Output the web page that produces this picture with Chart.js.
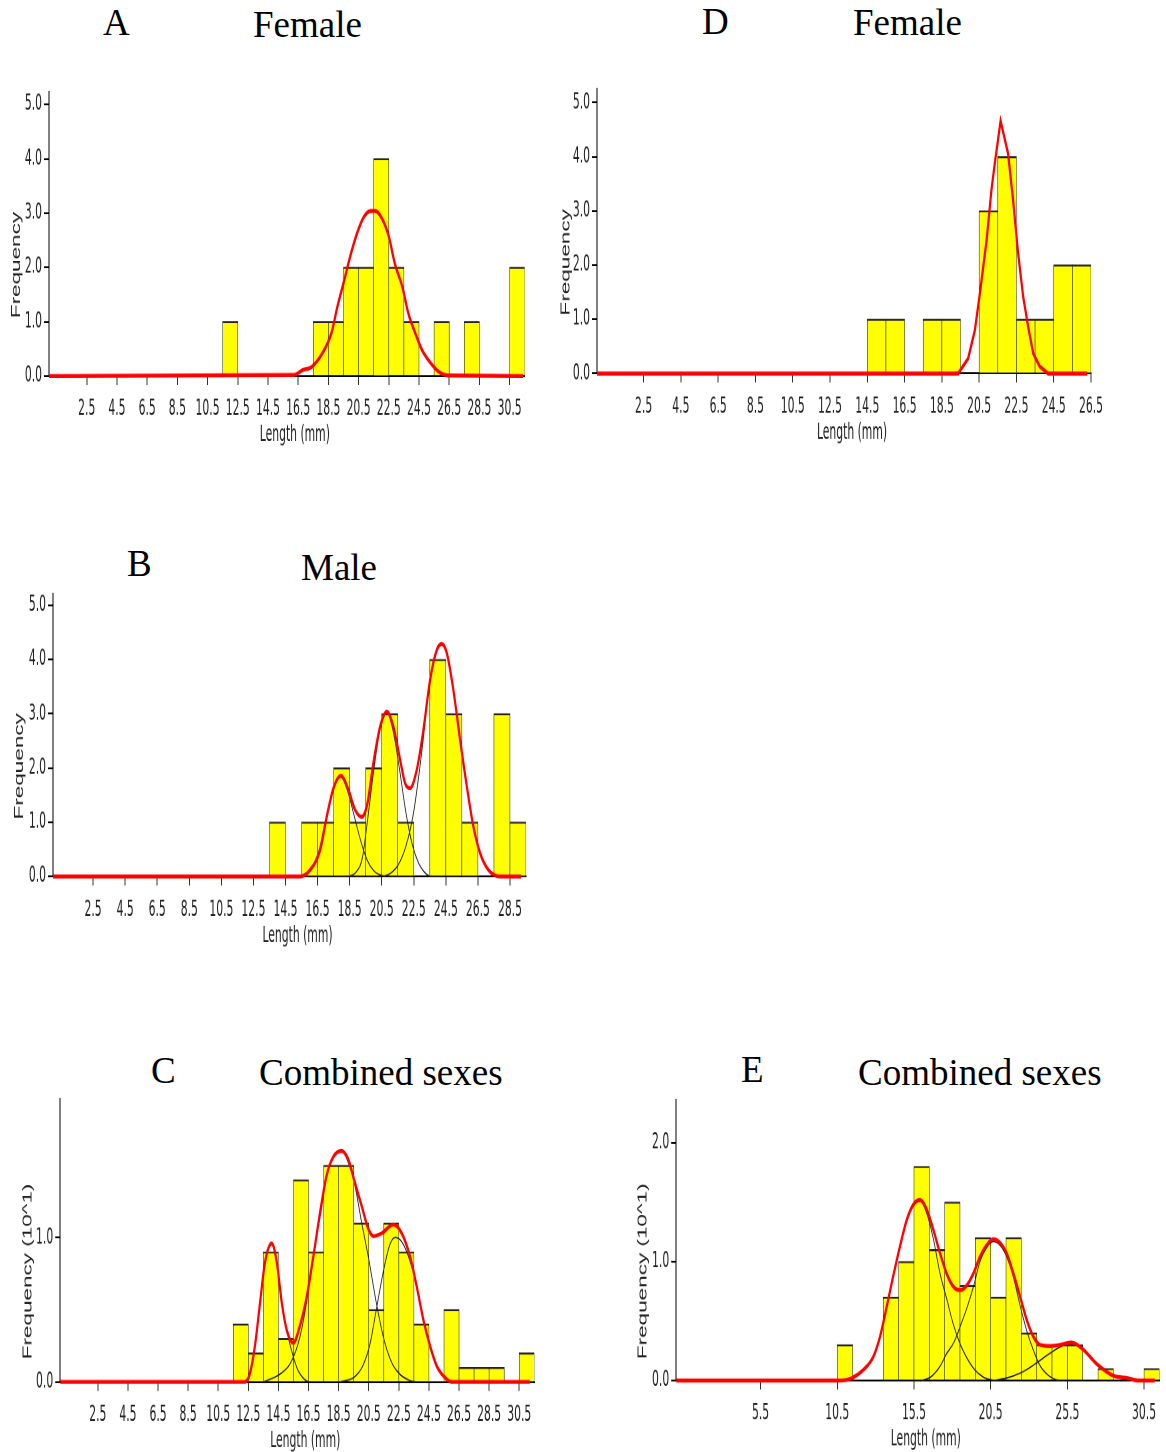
<!DOCTYPE html>
<html>
<head>
<meta charset="utf-8">
<title>Length-frequency distributions</title>
<script src="https://cdn.jsdelivr.net/npm/chart.js@4.4.1/dist/chart.umd.min.js"></script>
<style>
  html, body { margin: 0; padding: 0; background: #fff; }
  body { position: relative; width: 1166px; height: 1452px; overflow: hidden; }
  .lbl { position: absolute; font-family: 'Liberation Serif', 'Times New Roman', serif; font-size: 37px; line-height: 37px; color: #000; white-space: nowrap; }
  .panel { position: absolute; transform-origin: 0 0; }
  .panel canvas { display: block; }
</style>
</head>
<body>

<div class="lbl" style="left:103px;top:4px">A</div>
<div class="lbl" style="left:253px;top:6px">Female</div>
<div class="lbl" style="left:702px;top:3px">D</div>
<div class="lbl" style="left:853px;top:4px">Female</div>
<div class="lbl" style="left:127px;top:545px">B</div>
<div class="lbl" style="left:301px;top:549px">Male</div>
<div class="lbl" style="left:151px;top:1052px">C</div>
<div class="lbl" style="left:259px;top:1054px">Combined sexes</div>
<div class="lbl" style="left:741px;top:1051px">E</div>
<div class="lbl" style="left:858px;top:1054px">Combined sexes</div>

<div class="panel" id="panelA"></div>
<div class="panel" id="panelD"></div>
<div class="panel" id="panelB"></div>
<div class="panel" id="panelC"></div>
<div class="panel" id="panelE"></div>

<script>
// ===== Data =====
// bins are class mid-lengths (mm), class width 1 mm

// A - female
const binsA = [12, 18, 19, 20, 21, 22, 23, 24, 26, 28, 31];
const countsA = [1, 1, 1, 2, 2, 4, 2, 1, 1, 1, 2];
const fitXA = [0, 16.2, 16.8, 17.4, 18.1, 18.7, 19.1, 19.5, 20.0, 20.4, 20.85, 21.3, 21.6, 22.05, 22.5, 22.9, 23.4, 23.8, 24.25, 24.7, 25.3, 25.8, 26.4, 31.4];
const fitYA = [0, 0.02, 0.11, 0.17, 0.42, 0.79, 1.28, 1.71, 2.26, 2.63, 2.93, 3.04, 3.04, 2.9, 2.57, 2.07, 1.64, 1.15, 0.79, 0.48, 0.23, 0.08, 0.01, 0];
const xTicksA = [2.5, 4.5, 6.5, 8.5, 10.5, 12.5, 14.5, 16.5, 18.5, 20.5, 22.5, 24.5, 26.5, 28.5, 30.5];
const yTicksA = [0, 1, 2, 3, 4, 5];

// D - female
const binsD = [15, 16, 18, 19, 21, 22, 23, 24, 25, 26];
const countsD = [1, 1, 1, 1, 3, 4, 1, 1, 2, 2];
const fitXD = [0, 19.37, 19.91, 20.27, 20.54, 20.9, 21.16, 21.34, 21.65, 22.05, 22.32, 22.59, 22.86, 23.13, 23.4, 23.75, 24.2, 26.3];
const fitYD = [0, 0, 0.28, 0.8, 1.48, 2.46, 3.39, 3.88, 4.66, 4.06, 3.2, 2.22, 1.42, 0.86, 0.37, 0.13, 0, 0];
const xTicksD = [2.5, 4.5, 6.5, 8.5, 10.5, 12.5, 14.5, 16.5, 18.5, 20.5, 22.5, 24.5, 26.5];
const yTicksD = [0, 1, 2, 3, 4, 5];

// B - male
const binsB = [14, 16, 17, 18, 19, 20, 21, 22, 24, 25, 26, 28, 29];
const countsB = [1, 1, 1, 2, 1, 2, 3, 1, 4, 3, 1, 3, 1];
const fitXB = [0, 15.41, 16.03, 16.66, 17.07, 17.49, 17.95, 18.42, 18.84, 19.26, 19.61, 19.98, 20.4, 20.82, 21.23, 21.65, 21.96, 22.27, 22.69, 23.1, 23.52, 23.94, 24.25, 24.56, 24.97, 25.39, 25.81, 26.22, 26.64, 27.16, 27.88, 29.2];
const fitYB = [0, 0, 0.12, 0.49, 1.1, 1.63, 1.86, 1.6, 1.23, 1.1, 1.35, 2.09, 2.76, 3.04, 2.76, 2.15, 1.72, 1.63, 1.97, 2.7, 3.63, 4.18, 4.29, 4.12, 3.44, 2.52, 1.66, 0.92, 0.43, 0.12, 0, 0];
const cohortB1X = [15.4, 16.0, 16.6, 17.0, 17.5, 17.95, 18.4, 18.8, 19.2, 19.6, 20.0, 20.4, 20.8];
const cohortB1Y = [0, 0.12, 0.49, 1.05, 1.62, 1.84, 1.55, 1.1, 0.65, 0.3, 0.11, 0.03, 0];
const cohortB2X = [18.4, 18.9, 19.3, 19.6, 20.0, 20.4, 20.82, 21.2, 21.6, 22.0, 22.4, 22.8, 23.2, 23.5];
const cohortB2Y = [0, 0.08, 0.35, 1.0, 1.95, 2.7, 3.02, 2.7, 2.0, 1.2, 0.6, 0.25, 0.07, 0];
const cohortB3X = [20.6, 21.0, 21.5, 22.0, 22.5, 23.0, 23.5, 23.9, 24.25, 24.6, 25.0, 25.4, 25.8, 26.2, 26.6, 27.1, 27.8];
const cohortB3Y = [0, 0.05, 0.2, 0.55, 1.2, 2.3, 3.55, 4.15, 4.29, 4.1, 3.4, 2.5, 1.65, 0.92, 0.45, 0.13, 0];
const xTicksB = [2.5, 4.5, 6.5, 8.5, 10.5, 12.5, 14.5, 16.5, 18.5, 20.5, 22.5, 24.5, 26.5, 28.5];
const yTicksB = [0, 1, 2, 3, 4, 5];

// C - combined sexes (frequency x 10)
const binsC = [12, 13, 14, 15, 16, 17, 18, 19, 20, 21, 22, 23, 24, 26, 27, 28, 29, 31];
const countsC = [0.4, 0.2, 0.9, 0.3, 1.4, 0.9, 1.5, 1.5, 1.1, 0.5, 1.1, 0.9, 0.4, 0.5, 0.1, 0.1, 0.1, 0.2];
const fitXC = [0, 12.28, 12.61, 12.94, 13.28, 13.61, 14.05, 14.39, 14.72, 15.05, 15.49, 15.93, 16.38, 16.82, 17.26, 17.7, 18.15, 18.7, 19.14, 19.58, 20.03, 20.47, 20.81, 21.36, 22.13, 22.69, 23.24, 23.69, 24.13, 24.57, 25.02, 25.57, 26.0, 31.2];
const fitYC = [0, 0, 0.06, 0.25, 0.55, 0.83, 0.96, 0.83, 0.55, 0.36, 0.27, 0.39, 0.59, 0.87, 1.17, 1.43, 1.56, 1.6, 1.54, 1.38, 1.22, 1.06, 1.01, 1.03, 1.09, 1.03, 0.87, 0.66, 0.43, 0.25, 0.11, 0.03, 0, 0];
const cohortC1X = [12.3, 12.6, 12.95, 13.3, 13.6, 14.05, 14.4, 14.7, 15.05, 15.5, 15.8, 16.2, 16.5];
const cohortC1Y = [0, 0.06, 0.25, 0.55, 0.82, 0.95, 0.83, 0.58, 0.36, 0.17, 0.08, 0.02, 0];
const cohortC2X = [13.5, 14.2, 14.8, 15.3, 15.9, 16.4, 16.8, 17.3, 17.7, 18.15, 18.7, 19.1, 19.6, 20.0, 20.5, 21.0, 21.5, 22.0, 22.5, 23.2, 23.6];
const cohortC2Y = [0, 0.03, 0.07, 0.13, 0.3, 0.57, 0.86, 1.16, 1.42, 1.56, 1.6, 1.53, 1.35, 1.12, 0.85, 0.55, 0.3, 0.14, 0.06, 0.01, 0];
const cohortC3X = [18.6, 19.5, 20.1, 20.6, 21.0, 21.5, 21.9, 22.25, 22.7, 23.2, 23.7, 24.1, 24.6, 25.0, 25.5, 25.9];
const cohortC3Y = [0, 0.03, 0.11, 0.27, 0.5, 0.78, 0.95, 1.0, 0.97, 0.85, 0.65, 0.43, 0.24, 0.11, 0.03, 0];
const xTicksC = [2.5, 4.5, 6.5, 8.5, 10.5, 12.5, 14.5, 16.5, 18.5, 20.5, 22.5, 24.5, 26.5, 28.5, 30.5];
const yTicksC = [0, 1];

// E - combined sexes (frequency x 10)
const binsE = [11, 14, 15, 16, 17, 18, 19, 20, 21, 22, 23, 24, 25, 26, 28, 31];
const countsE = [0.3, 0.7, 1.0, 1.8, 1.1, 1.5, 0.8, 1.2, 0.7, 1.2, 0.4, 0.3, 0.3, 0.3, 0.1, 0.1];
const fitXE = [0, 10.68, 11.44, 12.2, 12.85, 13.29, 13.72, 14.15, 14.59, 15.03, 15.46, 15.89, 16.33, 16.76, 17.2, 17.63, 18.06, 18.5, 18.94, 19.37, 19.8, 20.24, 20.67, 21.11, 21.54, 21.98, 22.41, 22.85, 23.28, 23.72, 24.37, 25.02, 25.78, 26.54, 27.41, 28.5, 29.45, 30.1, 31.2];
const fitYE = [0, 0, 0.02, 0.09, 0.2, 0.37, 0.62, 0.88, 1.13, 1.35, 1.48, 1.52, 1.44, 1.27, 1.07, 0.9, 0.79, 0.76, 0.8, 0.9, 1.04, 1.14, 1.19, 1.16, 1.07, 0.9, 0.71, 0.51, 0.37, 0.3, 0.29, 0.3, 0.32, 0.26, 0.14, 0.04, 0.02, 0, 0];
const cohortE1X = [10.7, 11.4, 12.2, 12.85, 13.3, 13.7, 14.15, 14.6, 15.0, 15.45, 15.9, 16.3, 16.75, 17.2, 17.65, 18.05, 18.5, 18.95, 19.4, 20.0, 20.7];
const cohortE1Y = [0, 0.02, 0.09, 0.2, 0.37, 0.62, 0.88, 1.13, 1.34, 1.47, 1.51, 1.42, 1.2, 0.9, 0.68, 0.48, 0.31, 0.19, 0.1, 0.03, 0];
const cohortE2X = [16.0, 16.6, 17.2, 17.6, 18.1, 18.5, 18.95, 19.4, 19.8, 20.25, 20.67, 21.1, 21.55, 22.0, 22.4, 22.85, 23.3, 23.7, 24.2, 24.7, 25.0];
const cohortE2Y = [0, 0.03, 0.12, 0.22, 0.32, 0.45, 0.61, 0.8, 1.0, 1.12, 1.17, 1.14, 1.04, 0.86, 0.64, 0.42, 0.25, 0.13, 0.05, 0.01, 0];
const cohortE3X = [20.7, 21.5, 22.4, 23.3, 24.15, 25.0, 25.75, 26.5, 27.4, 28.5, 29.4, 30.1];
const cohortE3Y = [0, 0.02, 0.06, 0.13, 0.21, 0.28, 0.31, 0.26, 0.14, 0.04, 0.01, 0];
const xTicksE = [5.5, 10.5, 15.5, 20.5, 25.5, 30.5];
const yTicksE = [0, 1, 2];

// ===== Drawing =====
// lettering of the plots is tall and narrow, so each plot is drawn short and stretched vertically
const STRETCH = 1.8;
const NARROW = "'Liberation Sans Narrow', 'DejaVu Sans Condensed', 'Liberation Sans', sans-serif";
const SANS = "'Liberation Sans', Arial, sans-serif";

const pts = (xs, ys) => xs.map((x, i) => ({ x: x, y: ys[i] }));

// axis titles sit a little off-centre (lower on y, right on x)
const axisTitles = {
    id: 'axisTitles',
    afterDraw(chart, args, opts) {
        const { ctx, chartArea } = chart;
        ctx.save();
        ctx.fillStyle = '#222';
        ctx.textAlign = 'center';
        ctx.textBaseline = 'middle';

        ctx.font = `12px ${NARROW}`;
        ctx.fillText('Length (mm)', (chartArea.left + chartArea.right) / 2 + 8, chartArea.bottom + 59.5 / STRETCH);

        ctx.font = `12.5px ${SANS}`;
        ctx.translate(opts.x, (chartArea.top + chartArea.bottom) / 2 + 31 / STRETCH);
        ctx.rotate(-Math.PI / 2);
        ctx.fillText(opts.text, 0, 0);
        ctx.restore();
    }
};

function histogram(id, box, d) {
    const wrap = document.getElementById(id);
    const padTop = 12 / STRETCH;
    const plotH = (box.plotBottom - box.plotTop) / STRETCH;
    const h = Math.ceil(padTop + plotH + 40);
    const xAxisH = h - padTop - plotH;

    wrap.style.left = box.left + 'px';
    wrap.style.top = (box.plotTop - 12) + 'px';
    wrap.style.transform = `scaleY(${STRETCH})`;

    const canvas = document.createElement('canvas');
    canvas.width = box.width;
    canvas.height = h;
    canvas.style.width = box.width + 'px';
    canvas.style.height = h + 'px';
    wrap.appendChild(canvas);

    const datasets = [{
        type: 'line',
        data: pts(d.fitX, d.fitY),
        borderColor: '#ff0000',
        borderWidth: 2.2,
        pointRadius: 0,
        fill: false,
        cubicInterpolationMode: d.sharp ? 'default' : 'monotone',
        tension: 0,
        clip: false,
        order: 0
    }];
    (d.cohorts || []).forEach(c => {
        datasets.push({
            type: 'line',
            data: pts(c[0], c[1]),
            borderColor: '#1c1c1c',
            borderWidth: 0.8,
            pointRadius: 0,
            fill: false,
            cubicInterpolationMode: 'monotone',
            clip: false,
            order: 1
        });
    });
    datasets.push({
        type: 'bar',
        data: pts(d.bins, d.counts),
        backgroundColor: '#ffff00',
        borderColor: '#222',
        borderWidth: { top: 1.1, left: 0.6, right: 0.6, bottom: 0 },
        barPercentage: 1,
        categoryPercentage: 1,
        grouped: false,
        order: 2
    });

    new Chart(canvas, {
        type: 'bar',
        data: { datasets: datasets },
        plugins: [axisTitles],
        options: {
            responsive: false,
            animation: false,
            devicePixelRatio: 2,
            events: [],
            layout: { padding: { top: padTop, right: box.left + box.width - box.plotRight, bottom: 0, left: 0 } },
            plugins: {
                legend: { display: false },
                tooltip: { enabled: false },
                axisTitles: { text: d.yTitle, x: box.yTitleX }
            },
            scales: {
                x: {
                    type: 'linear',
                    min: 0,
                    max: d.xMax,
                    offset: false,
                    afterBuildTicks: s => { s.ticks = d.xTicks.map(v => ({ value: v })); },
                    afterFit: s => { s.height = xAxisH; s.paddingLeft = 0; s.paddingRight = 0; },
                    grid: { offset: false, drawOnChartArea: false, drawTicks: true, tickLength: 5, color: '#333' },
                    border: { display: true, color: '#000', width: 1 },
                    ticks: {
                        font: { family: NARROW, size: 12 },
                        color: '#222',
                        padding: 6.4,
                        maxRotation: 0,
                        autoSkip: false,
                        callback: v => v.toFixed(1)
                    }
                },
                y: {
                    type: 'linear',
                    min: 0,
                    max: d.yMax,
                    afterBuildTicks: s => { s.ticks = d.yTicks.map(v => ({ value: v })); },
                    afterFit: s => { s.width = box.plotLeft - box.left; s.paddingTop = 0; s.paddingBottom = 0; },
                    grid: { drawOnChartArea: false, drawTicks: true, tickLength: 5, color: '#000' },
                    border: { display: true, color: '#000', width: 1 },
                    ticks: {
                        font: { family: NARROW, size: 12 },
                        color: '#222',
                        padding: 2,
                        callback: v => v.toFixed(1)
                    }
                }
            }
        }
    });
}

histogram('panelA',
    { left: 0, width: 545, plotLeft: 49, plotRight: 524.7, plotTop: 92, plotBottom: 376, yTitleX: 16.5 },
    { bins: binsA, counts: countsA, fitX: fitXA, fitY: fitYA, xTicks: xTicksA, yTicks: yTicksA, xMax: 31.5, yMax: 5.23, yTitle: 'Frequency' });

histogram('panelD',
    { left: 550, width: 560, plotLeft: 597, plotRight: 1091, plotTop: 89, plotBottom: 373.5, yTitleX: 16 },
    { bins: binsD, counts: countsD, fitX: fitXD, fitY: fitYD, xTicks: xTicksD, yTicks: yTicksD, xMax: 26.5, yMax: 5.25, yTitle: 'Frequency', sharp: true });

histogram('panelB',
    { left: 0, width: 545, plotLeft: 53, plotRight: 526, plotTop: 594, plotBottom: 876.5, yTitleX: 19.5 },
    { bins: binsB, counts: countsB, fitX: fitXB, fitY: fitYB, xTicks: xTicksB, yTicks: yTicksB, xMax: 29.5, yMax: 5.21, yTitle: 'Frequency',
      cohorts: [[cohortB1X, cohortB1Y], [cohortB2X, cohortB2Y], [cohortB3X, cohortB3Y]] });

histogram('panelC',
    { left: 0, width: 550, plotLeft: 60.2, plotRight: 534.3, plotTop: 1099.4, plotBottom: 1382.3, yTitleX: 28 },
    { bins: binsC, counts: countsC, fitX: fitXC, fitY: fitYC, xTicks: xTicksC, yTicks: yTicksC, xMax: 31.5, yMax: 1.96, yTitle: 'Frequency (10^1)',
      cohorts: [[cohortC1X, cohortC1Y], [cohortC2X, cohortC2Y], [cohortC3X, cohortC3Y]] });

histogram('panelE',
    { left: 620, width: 546, plotLeft: 676.2, plotRight: 1159.4, plotTop: 1100, plotBottom: 1380.5, yTitleX: 23 },
    { bins: binsE, counts: countsE, fitX: fitXE, fitY: fitYE, xTicks: xTicksE, yTicks: yTicksE, xMax: 31.5, yMax: 2.36, yTitle: 'Frequency (10^1)',
      cohorts: [[cohortE1X, cohortE1Y], [cohortE2X, cohortE2Y], [cohortE3X, cohortE3Y]] });
</script>
</body>
</html>
